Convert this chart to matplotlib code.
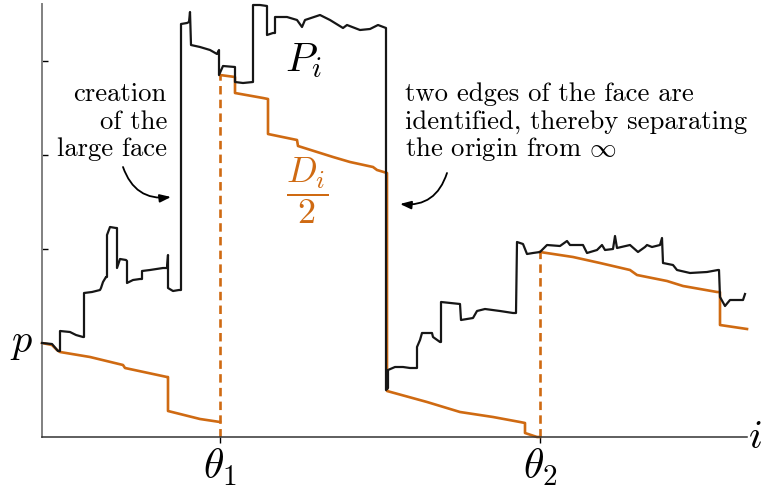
"""
P_i and D_i/2 along the exploration, with the two times theta_1, theta_2
where a large face appears / gets closed off.
"""
import numpy as np
import matplotlib
matplotlib.use("Agg")
import matplotlib.pyplot as plt
from matplotlib.patches import FancyArrowPatch

ORANGE = "#cf6a12"
INK = "#161616"

plt.rcParams.update({
    "mathtext.fontset": "cm",
    "font.family": "cmr10",
    "axes.unicode_minus": False,
    "axes.spines.top": False,
    "axes.spines.right": False,
})

P_LEVEL = 94                  # height of p on the value axis
THETA = [178, 498]            # theta_1, theta_2 (step index)
THETA_LABELS = [r"$\theta_1$", r"$\theta_2$"]

# P_i as (i, value) vertices
p_path = [(0, 94), (10, 93), (16, 86), (18, 86), (18, 106), (28, 105), (34, 102), (41, 100),
          (42, 100), (42, 144), (50, 145), (58, 147), (59, 149), (61, 155), (64, 160), (65, 160),
          (65, 202), (68, 210), (74, 209), (75, 209), (75, 169), (78, 178), (84, 177), (85, 176),
          (85, 154), (91, 157), (98, 158), (100, 158), (100, 166), (108, 167), (121, 169),
          (125, 169), (126, 182), (126, 149), (131, 146), (137, 147), (139, 147), (139, 413),
          (145, 414), (147, 415), (148, 425), (149, 392), (158, 390), (168, 387), (175, 383),
          (177, 387), (177, 362), (181, 371), (193, 370), (193, 355), (201, 354), (211, 355),
          (211, 432), (218, 432), (225, 431), (225, 402), (231, 404), (233, 404), (233, 420),
          (245, 420), (255, 417), (260, 410), (263, 417), (278, 422), (288, 417), (301, 409),
          (305, 412), (318, 407), (328, 408), (336, 412), (344, 409), (344, 47), (346, 49),
          (346, 67), (353, 70), (361, 70), (368, 69), (375, 69), (375, 90), (378, 97), (380, 104),
          (390, 104), (391, 100), (398, 95), (399, 95), (399, 135), (408, 134), (418, 133),
          (419, 117), (431, 119), (435, 126), (443, 128), (458, 126), (471, 124), (474, 124),
          (475, 195), (481, 193), (485, 183), (491, 184), (498, 185), (505, 192), (518, 191),
          (525, 196), (528, 192), (541, 192), (545, 184), (555, 187), (560, 192), (563, 187),
          (571, 188), (573, 201), (575, 189), (588, 192), (596, 185), (603, 190), (605, 192),
          (610, 190), (618, 192), (620, 199), (621, 174), (631, 172), (635, 167), (648, 164),
          (665, 165), (676, 167), (677, 167), (678, 140), (683, 131), (688, 137), (701, 137),
          (703, 143)]

# D_i / 2, three pieces (broken at theta_1 and theta_2)
d_path_1 = [(0, 94), (10, 92), (15, 87), (18, 85), (48, 80), (81, 72), (83, 69), (125, 60),
            (126, 60), (126, 26), (158, 18), (178, 15)]
d_path_2 = [(178, 362), (193, 360), (193, 344), (221, 339), (226, 338), (226, 303), (255, 297),
            (256, 291), (291, 280), (308, 275), (331, 270), (335, 267), (345, 264), (345, 46),
            (385, 35), (418, 25), (451, 20), (478, 15), (483, 14), (483, 4), (495, 0), (498, 0)]
d_path_3 = [(498, 185), (531, 180), (558, 174), (588, 167), (595, 162), (625, 156), (641, 151),
            (675, 145), (678, 145), (678, 112), (705, 108)]

left_note = ["creation", "of the", "large face"]
right_note = ["two edges of the face are", "identified, thereby separating",
              r"the origin from $\infty$"]

fig = plt.figure(figsize=(7.69, 4.93), dpi=100)
ax = fig.add_axes([42 / 769, 56 / 493, 705 / 769, 433 / 493])
ax.set_xlim(0, 705)
ax.set_ylim(0, 433)

for path in (d_path_1, d_path_2, d_path_3):
    a = np.array(path)
    ax.plot(a[:, 0], a[:, 1], color=ORANGE, lw=1.9, clip_on=False, zorder=2)

p = np.array(p_path)
ax.plot(p[:, 0], p[:, 1], color=INK, lw=1.6, clip_on=False, zorder=3)

# dashed jumps of D_i/2 at the thetas
dash = (0, (3.2, 2.0))
ax.plot([THETA[0]] * 2, [0, d_path_2[0][1]], color=ORANGE, lw=1.9, ls=dash, zorder=2)
ax.plot([THETA[1]] * 2, [0, d_path_3[0][1]], color=ORANGE, lw=1.9, ls=dash, zorder=2)

# axes look
ax.spines["left"].set_color("#808080")
ax.spines["left"].set_linewidth(1.4)
ax.spines["bottom"].set_color("#333333")
ax.spines["bottom"].set_linewidth(1.1)
ax.set_yticks([2 * P_LEVEL, 3 * P_LEVEL, 4 * P_LEVEL])
ax.set_yticklabels([])
ax.tick_params(axis="y", direction="in", length=4.5, width=1, color="black")
ax.set_xticks(THETA)
ax.set_xticklabels(THETA_LABELS)
ax.tick_params(axis="x", direction="out", length=4, width=1, pad=3, labelsize=30)

ax.text(-9, 85, r"$p$", fontsize=29, ha="right", va="baseline", clip_on=False)
ax.text(706, -11, r"$i$", fontsize=29, ha="left", va="baseline", clip_on=False)

ax.text(243, 366, r"$P_i$", fontsize=29.5, ha="left", va="baseline")
ax.text(265, 246, r"$\dfrac{D_i}{2}$", fontsize=26, color=ORANGE, ha="center", va="center")

for line, h in zip(left_note, [336, 308, 281]):
    ax.text(125, h, line, fontsize=19.2, ha="right", va="baseline")
for line, h in zip(right_note, [336, 308, 281]):
    ax.text(363, h, line, fontsize=19.2, ha="left", va="baseline")

arrow_kw = dict(arrowstyle="-|>,head_length=0.55,head_width=0.2", color="black", lw=1.3,
                shrinkA=0, shrinkB=0, mutation_scale=12)
ax.add_patch(FancyArrowPatch((81, 270), (129, 240), connectionstyle="arc3,rad=0.4", **arrow_kw))
ax.add_patch(FancyArrowPatch((405, 264), (358, 233), connectionstyle="arc3,rad=-0.4", **arrow_kw))

fig.savefig("out.png", dpi=100)
plt.close(fig)
